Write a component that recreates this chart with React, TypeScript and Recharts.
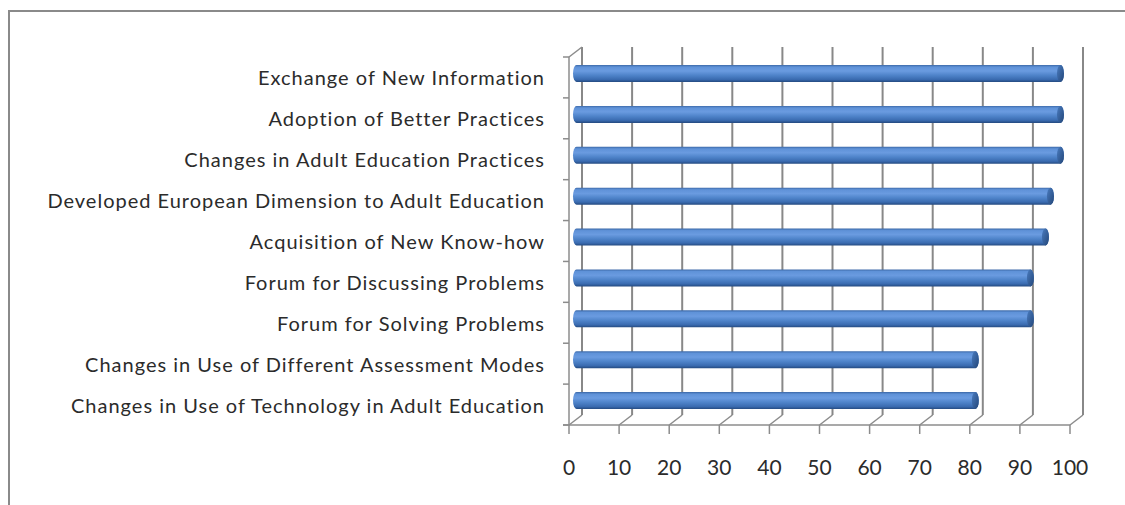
import { BarChart, Bar, XAxis, YAxis, CartesianGrid } from 'recharts';

const categories = [
    'Exchange of New Information',
    'Adoption of Better Practices',
    'Changes in Adult Education Practices',
    'Developed European Dimension to Adult Education',
    'Acquisition of New Know-how',
    'Forum for Discussing Problems',
    'Forum for Solving Problems',
    'Changes in Use of Different Assessment Modes',
    'Changes in Use of Technology in Adult Education',
];

const percentages = [98, 98, 98, 96, 95, 92, 92, 81, 81];

const xTicks = [0, 10, 20, 30, 40, 50, 60, 70, 80, 90, 100];

const data = categories.map((name, i) => ({ name, value: percentages[i] }));

// plot box in page pixels (the bar plane); front wall/floor sit below-left of it, back wall above-right
const W = 1125;
const H = 505;
const PLOT = { left: 573, right: 1074, top: 53, bottom: 421 };
const FRONT = { dx: -4, dy: 4 };
const BACK = { dx: 9, dy: 6 };
const BAND = (PLOT.bottom - PLOT.top) / categories.length;
const X_AXIS_H = 60;
const Y_AXIS_W = 560;

const WALL = '#8c8c8c';
const FONT = 'Lato, "Open Sans", sans-serif';

function CategoryTick(props: any) {
    const { y, payload, index } = props;
    const top = y - BAND / 2 + FRONT.dy;
    const wallX = PLOT.left + FRONT.dx;
    const last = index === categories.length - 1;
    return (
        <g>
            <line x1={wallX - 6} y1={top} x2={wallX} y2={top} stroke={WALL} strokeWidth={1.5} />
            {last && <line x1={wallX - 6} y1={top + BAND} x2={wallX} y2={top + BAND} stroke={WALL} strokeWidth={1.5} />}
            <text
                x={545}
                y={y + FRONT.dy}
                textAnchor="end"
                dominantBaseline="central"
                fontFamily={FONT}
                fontSize={20}
                letterSpacing={1}
                fill="#2b2b2b"
            >
                {payload.value}
            </text>
        </g>
    );
}

function ValueTick(props: any) {
    const { x, payload } = props;
    const fx = x + FRONT.dx;
    const fy = PLOT.bottom + FRONT.dy;
    const first = payload.value === 0;
    return (
        <g>
            {first && (
                <g>
                    {/* front floor edge */}
                    <line x1={fx - 6} y1={fy} x2={PLOT.right + FRONT.dx} y2={fy} stroke={WALL} strokeWidth={1.5} />
                    {/* left wall front edge and top corner */}
                    <line x1={fx} y1={PLOT.top + FRONT.dy} x2={fx} y2={fy} stroke={WALL} strokeWidth={1.5} />
                    <line
                        x1={fx}
                        y1={PLOT.top + FRONT.dy}
                        x2={x + BACK.dx}
                        y2={PLOT.top - BACK.dy}
                        stroke={WALL}
                        strokeWidth={1.5}
                    />
                </g>
            )}
            <line x1={fx} y1={fy} x2={x + BACK.dx} y2={PLOT.bottom - BACK.dy} stroke={WALL} strokeWidth={1.5} />
            <line x1={fx} y1={fy} x2={fx} y2={fy + 9} stroke={WALL} strokeWidth={1.5} />
            <text
                x={fx}
                y={466}
                textAnchor="middle"
                dominantBaseline="central"
                fontFamily={FONT}
                fontSize={21}
                fill="#2b2b2b"
            >
                {payload.value}
            </text>
        </g>
    );
}

// back wall gridline, pushed up and right of the bar plane
function BackGridLine(props: any) {
    const { x1, key } = props;
    return (
        <line
            key={key}
            x1={x1 + BACK.dx}
            y1={PLOT.top - BACK.dy}
            x2={x1 + BACK.dx}
            y2={PLOT.bottom - BACK.dy}
            stroke="#888"
            strokeWidth={2}
        />
    );
}

function Cylinder(props: any) {
    const { x, y, width, height } = props;
    if (!width || width <= 0) return null;
    const rx = 3.5;
    const ry = height / 2;
    const cy = y + ry;
    const end = x + width - rx;
    const body = `M ${x + rx} ${y} L ${end} ${y} A ${rx} ${ry} 0 0 1 ${end} ${y + height} L ${x + rx} ${y + height} A ${rx} ${ry} 0 0 1 ${x + rx} ${y} Z`;
    return (
        <g>
            <path d={body} fill="url(#cylBody)" />
            <ellipse cx={end} cy={cy} rx={rx} ry={ry} fill="url(#cylCap)" />
        </g>
    );
}

export default function App() {
    return (
        <div style={{ position: 'absolute', left: 0, top: 0, width: W, height: H, overflow: 'hidden', background: '#fff' }}>
            <div
                style={{
                    position: 'absolute',
                    left: 8,
                    top: 10,
                    width: W + 40,
                    height: H + 40,
                    border: '2px solid #8a8a8a',
                }}
            />
            <div style={{ position: 'absolute', left: 0, top: 0 }}>
                <BarChart
                    width={W}
                    height={H}
                    data={data}
                    layout="vertical"
                    margin={{
                        top: PLOT.top,
                        right: W - PLOT.right,
                        bottom: H - PLOT.bottom - X_AXIS_H,
                        left: PLOT.left - Y_AXIS_W,
                    }}
                >
                    <defs>
                        <linearGradient id="cylBody" x1="0" y1="0" x2="0" y2="1">
                            <stop offset="0%" stopColor="#3c69a8" />
                            <stop offset="12%" stopColor="#5f92d8" />
                            <stop offset="35%" stopColor="#6a9be0" />
                            <stop offset="60%" stopColor="#4f84ca" />
                            <stop offset="85%" stopColor="#3a6bb0" />
                            <stop offset="100%" stopColor="#244a80" />
                        </linearGradient>
                        <linearGradient id="cylCap" x1="0" y1="0" x2="1" y2="1">
                            <stop offset="0%" stopColor="#4a7cc0" />
                            <stop offset="100%" stopColor="#234678" />
                        </linearGradient>
                    </defs>
                    <CartesianGrid horizontal={false} vertical={BackGridLine} />
                    <XAxis
                        type="number"
                        domain={[0, 100]}
                        ticks={xTicks}
                        interval={0}
                        height={X_AXIS_H}
                        axisLine={false}
                        tickLine={false}
                        tick={ValueTick}
                    />
                    <YAxis
                        type="category"
                        dataKey="name"
                        width={Y_AXIS_W}
                        interval={0}
                        axisLine={false}
                        tickLine={false}
                        tick={CategoryTick}
                    />
                    <Bar dataKey="value" barSize={17} shape={Cylinder} isAnimationActive={false} />
                </BarChart>
            </div>
        </div>
    );
}
